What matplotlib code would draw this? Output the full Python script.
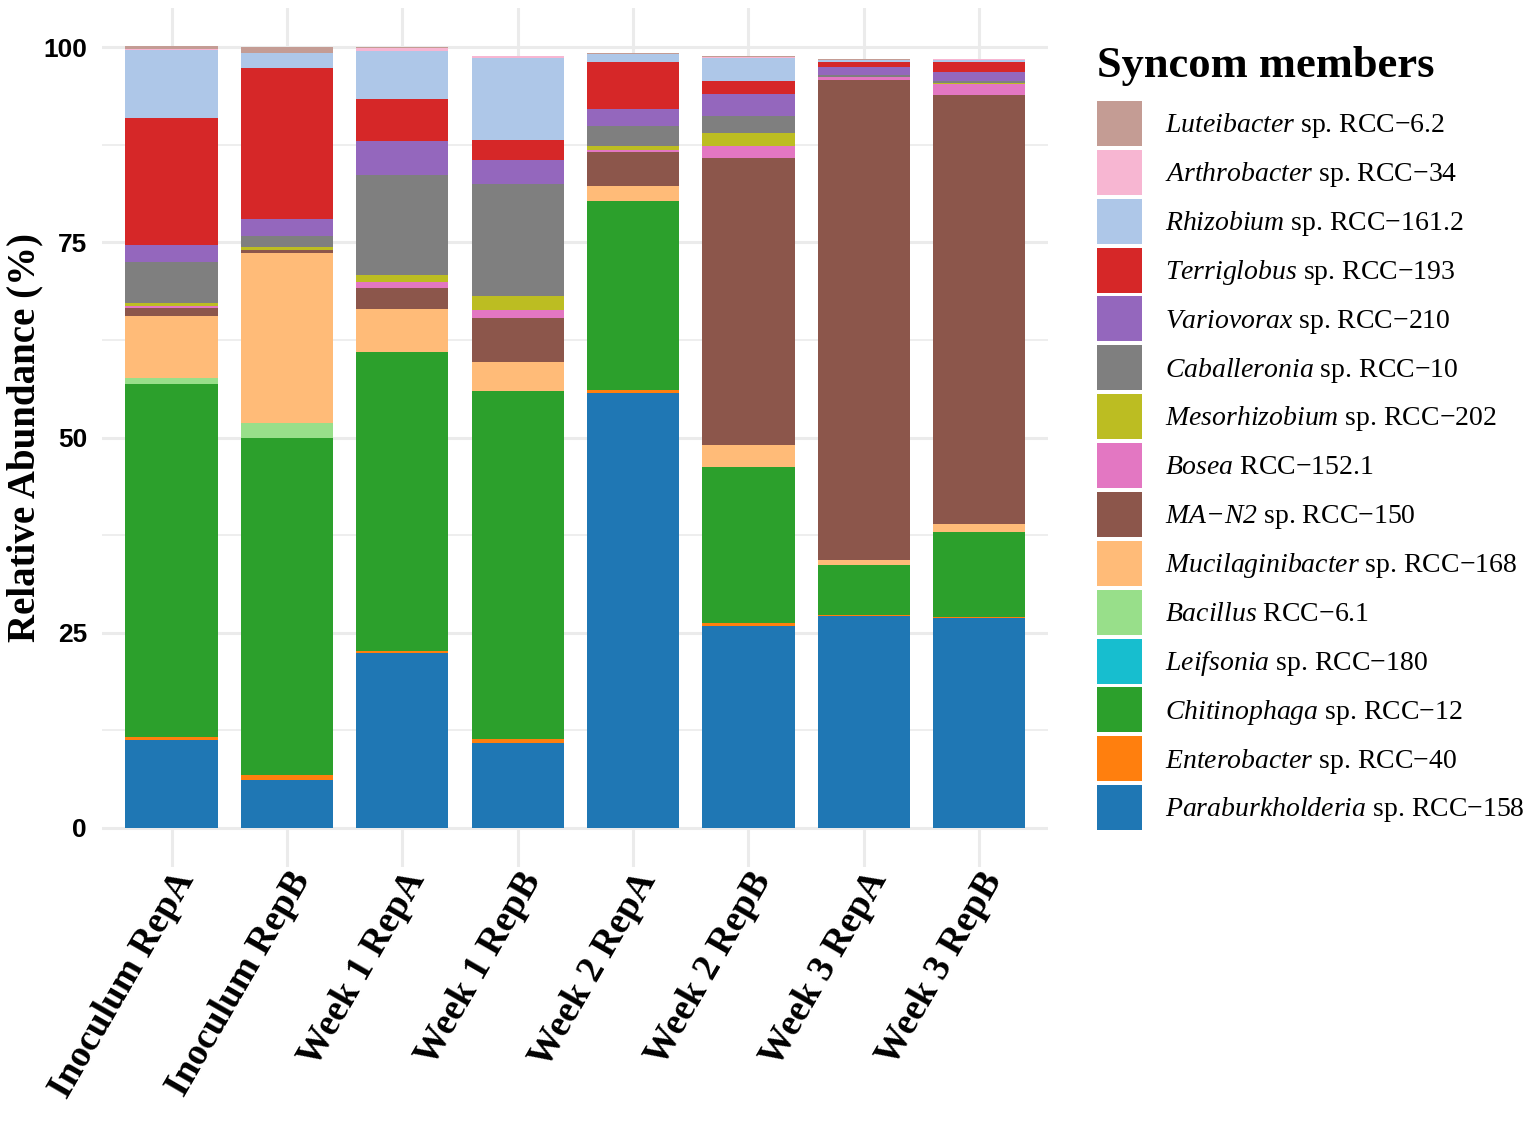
import numpy as np
import matplotlib
matplotlib.use("Agg")
import matplotlib.pyplot as plt
from matplotlib.patches import Patch

plt.rcParams['mathtext.fontset'] = 'custom'
plt.rcParams['mathtext.it'] = 'Liberation Serif:italic'
plt.rcParams['mathtext.sf'] = 'Liberation Serif:italic'
plt.rcParams['mathtext.rm'] = 'Liberation Serif'

samples = ["Inoculum RepA", "Inoculum RepB", "Week 1 RepA", "Week 1 RepB",
           "Week 2 RepA", "Week 2 RepB", "Week 3 RepA", "Week 3 RepB"]

# relative abundance (%) per member, stacked bottom -> top
paraburkholderia = [11.2, 6.1, 22.4, 10.9, 55.7, 25.9, 27.2, 26.9]
enterobacter = [0.45, 0.7, 0.3, 0.5, 0.4, 0.35, 0.1, 0.1]
chitinophaga = [45.2, 43.1, 38.3, 44.5, 24.2, 20.0, 6.4, 10.9]
leifsonia = [0.0, 0.0, 0.0, 0.0, 0.0, 0.0, 0.0, 0.0]
bacillus = [0.8, 1.9, 0.0, 0.0, 0.0, 0.0, 0.0, 0.0]
mucilaginibacter = [7.9, 21.8, 5.5, 3.8, 1.9, 2.8, 0.55, 1.0]
ma_n2 = [1.0, 0.35, 2.6, 5.6, 4.4, 36.8, 61.5, 55.0]
bosea = [0.3, 0.1, 0.85, 1.0, 0.2, 1.5, 0.4, 1.4]
mesorhizobium = [0.35, 0.4, 0.85, 1.8, 0.5, 1.7, 0.05, 0.05]
caballeronia = [5.3, 1.4, 12.85, 14.4, 2.6, 2.1, 0.2, 0.35]
variovorax = [2.15, 2.15, 4.35, 3.0, 2.2, 2.8, 1.0, 1.15]
terriglobus = [16.3, 19.3, 5.4, 2.55, 6.0, 1.7, 0.7, 1.2]
rhizobium = [8.65, 1.9, 6.15, 10.6, 1.0, 3.0, 0.2, 0.35]
arthrobacter = [0.2, 0.1, 0.35, 0.15, 0.05, 0.05, 0.05, 0.05]
luteibacter = [0.35, 0.65, 0.05, 0.1, 0.1, 0.15, 0.1, 0.05]

members = [
    (r"$\mathit{Paraburkholderia}$ sp. RCC−158", paraburkholderia, "#1f77b4"),
    (r"$\mathit{Enterobacter}$ sp. RCC−40", enterobacter, "#ff7f0e"),
    (r"$\mathit{Chitinophaga}$ sp. RCC−12", chitinophaga, "#2ca02c"),
    (r"$\mathit{Leifsonia}$ sp. RCC−180", leifsonia, "#17becf"),
    (r"$\mathit{Bacillus}$ RCC−6.1", bacillus, "#98df8a"),
    (r"$\mathit{Mucilaginibacter}$ sp. RCC−168", mucilaginibacter, "#ffbb78"),
    (r"$\mathsf{MA{-}N2}$ sp. RCC−150", ma_n2, "#8c564b"),
    (r"$\mathit{Bosea}$ RCC−152.1", bosea, "#e377c2"),
    (r"$\mathit{Mesorhizobium}$ sp. RCC−202", mesorhizobium, "#bcbd22"),
    (r"$\mathit{Caballeronia}$ sp. RCC−10", caballeronia, "#7f7f7f"),
    (r"$\mathit{Variovorax}$ sp. RCC−210", variovorax, "#9467bd"),
    (r"$\mathit{Terriglobus}$ sp. RCC−193", terriglobus, "#d62728"),
    (r"$\mathit{Rhizobium}$ sp. RCC−161.2", rhizobium, "#aec7e8"),
    (r"$\mathit{Arthrobacter}$ sp. RCC−34", arthrobacter, "#f7b6d2"),
    (r"$\mathit{Luteibacter}$ sp. RCC−6.2", luteibacter, "#c49c94"),
]

fig = plt.figure(figsize=(15.36, 11.27), dpi=100)
ax = fig.add_axes([0.0666, 0.2307, 0.616, 0.7622])

x = np.arange(len(samples))
bottom = np.zeros(len(samples))
handles = []
for label, vals, col in members:
    vals = np.array(vals)
    ax.bar(x, vals, width=0.8, bottom=bottom, color=col, linewidth=0, zorder=3)
    bottom += vals
    handles.append(Patch(facecolor=col, linewidth=0, label=label))

ax.set_xlim(-0.6, len(samples) - 0.4)
ax.set_ylim(-5, 105)
ax.set_yticks([0, 25, 50, 75, 100])
ax.set_yticks([12.5, 37.5, 62.5, 87.5], minor=True)
ax.grid(which='major', color='#ebebeb', linewidth=2.2, zorder=0)
ax.grid(which='minor', axis='y', color='#ebebeb', linewidth=1.2, zorder=0)
for s in ax.spines.values():
    s.set_visible(False)
ax.tick_params(which='both', length=0)
ax.tick_params(axis='y', pad=11)
ax.tick_params(axis='x', pad=-1)

ax.set_xticks(x)
ax.set_xticklabels(samples, rotation=60, ha='right', va='top', rotation_mode='anchor',
                   family='Liberation Serif', fontweight='bold', fontsize=27)
for t in ax.get_yticklabels():
    t.set_family('Liberation Sans')
    t.set_fontweight('bold')
    t.set_fontsize(19)
ax.set_ylabel("Relative Abundance (%)", family='Liberation Serif', fontweight='bold',
              fontsize=28)
ax.yaxis.label.set_va('center')
ax.yaxis.set_label_coords(-0.082, 0.5)

leg = fig.legend(handles=handles[::-1], loc='upper left', bbox_to_anchor=(0.7142, 0.9105),
                 frameon=False, prop={'family': 'Liberation Serif', 'size': 20},
                 handlelength=1.62, handleheight=2.115, labelspacing=0.14,
                 handletextpad=0.84, borderpad=0, borderaxespad=0)
fig.text(0.7142, 1 - 77 / 1127, "Syncom members", family='Liberation Serif',
         fontweight='bold', fontsize=32, ha='left', va='baseline')

fig.savefig("out.png", dpi=100, facecolor='white')
